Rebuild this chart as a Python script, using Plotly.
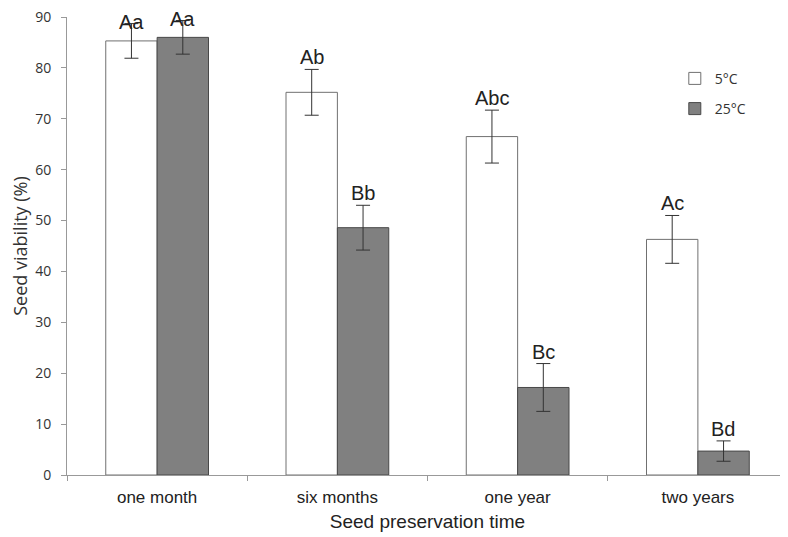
import plotly.graph_objects as go

categories = ["one month", "six months", "one year", "two years"]
v5 = [85.3, 75.2, 66.5, 46.3]
e5 = [3.4, 4.5, 5.2, 4.7]
v25 = [86.0, 48.6, 17.2, 4.7]
e25 = [3.3, 4.4, 4.7, 2.0]
lab5 = ["Aa", "Ab", "Abc", "Ac"]
lab25 = ["Aa", "Bb", "Bc", "Bd"]
series_names = ["5°C", "25°C"]

fig = go.Figure()
fig.add_trace(go.Bar(
    x=categories, y=v5, name=series_names[0], legendgroup="g1",
    marker=dict(color="white", line=dict(color="#707070", width=1)),
    error_y=dict(type="data", array=e5, color="#333333", thickness=1, width=7),
))
fig.add_trace(go.Bar(
    x=categories, y=v25, name=series_names[1], legendgroup="g2",
    marker=dict(color="#808080", line=dict(color="#484848", width=1)),
    error_y=dict(type="data", array=e25, color="#333333", thickness=1, width=7),
))


def label_shift(top):
    # labels near the top of the axis sit lower so they stay inside the figure
    return -11 if top > 85 else -1


for i, c in enumerate(categories):
    t5 = v5[i] + e5[i]
    t25 = v25[i] + e25[i]
    fig.add_annotation(x=c, y=t5, text=lab5[i], showarrow=False,
                       xshift=-25.5, yanchor="bottom", yshift=label_shift(t5),
                       font=dict(family="Liberation Sans", size=20, color="#222"))
    fig.add_annotation(x=c, y=t25, text=lab25[i], showarrow=False,
                       xshift=25.5, yanchor="bottom", yshift=label_shift(t25),
                       font=dict(family="Liberation Sans", size=20, color="#222"))

fig.update_layout(
    width=780, height=529,
    margin=dict(l=59, r=0, t=9, b=62),
    paper_bgcolor="white", plot_bgcolor="white",
    barmode="group", bargap=0.43, bargroupgap=0,
    showlegend=True,
    legend=dict(x=0.843, y=0.9, xanchor="left", yanchor="top",
                font=dict(family="Open Sans", size=14, color="#333"),
                bgcolor="rgba(0,0,0,0)", itemwidth=30,
                traceorder="grouped", tracegroupgap=9),
    xaxis=dict(
        type="category", range=[-0.5, 3.5], automargin=False,
        showline=True, linecolor="#999999", linewidth=1,
        ticks="outside", tickson="boundaries", ticklen=5, tickcolor="#999999",
        ticklabelstandoff=7,
        tickfont=dict(family="Liberation Sans Narrow, Liberation Sans", size=17, color="#222"),
        title=dict(text="Seed preservation time", standoff=8,
                   font=dict(family="Liberation Sans Narrow, Liberation Sans", size=19, color="#222")),
        showgrid=False,
    ),
    yaxis=dict(
        range=[0, 90], dtick=10, automargin=False,
        showline=True, linecolor="#999999", linewidth=1,
        ticks="outside", ticklen=5, tickcolor="#999999",
        ticklabelstandoff=7, ticklabeloverflow="allow",
        tickfont=dict(family="Open Sans", size=14, color="#333"),
        title=dict(text="Seed viability (%)", standoff=8,
                   font=dict(family="Open Sans", size=18, color="#333")),
        showgrid=False, zeroline=False,
    ),
)

fig.write_html("out.html")
